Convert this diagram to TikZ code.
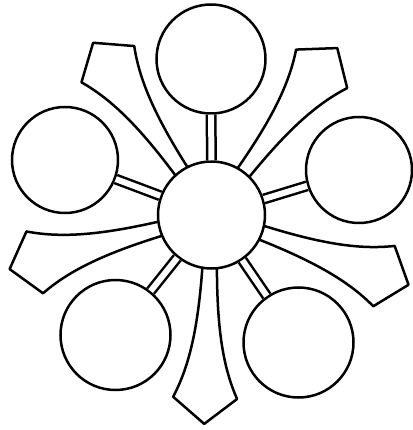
\documentclass[tikz,border=0pt]{standalone}
\usepackage{tikz}

\begin{document}
\begin{tikzpicture}[
        x=1pt, y=1pt,
        line width=2.5pt,
        disc/.style={
            circle,
            draw,
            fill=white,
            minimum size=#1,
            inner sep=0pt
        },
        bar/.style={double, double distance=6pt},
        arm/.style={draw, fill=white, line join=round}
    ]
        \useasboundingbox (-211.5,-215) rectangle (200.5,215);

        \foreach \ang in {124.5,53,195,268,-19.5}
            \draw[arm, rotate=\ang] (45,-7) .. controls (110,-9) and (150,-16) .. (183,-32)
                -- (209,0) -- (183,32) .. controls (150,16) and (110,9) .. (45,7) -- cycle;

        \node[disc=107] (hub) at (0,0) {};
        \node[disc=109] (north) at (-0.5,156) {};
        \node[disc=106] (west) at (-146.5,55) {};
        \node[disc=106] (east) at (147.5,45) {};
        \node[disc=110] (southwest) at (-96,-120) {};
        \node[disc=110] (southeast) at (87,-127.5) {};

        \foreach \sat in {north,west,east,southwest,southeast}
            \draw[bar] (hub) -- (\sat);
    \end{tikzpicture}
\end{document}
